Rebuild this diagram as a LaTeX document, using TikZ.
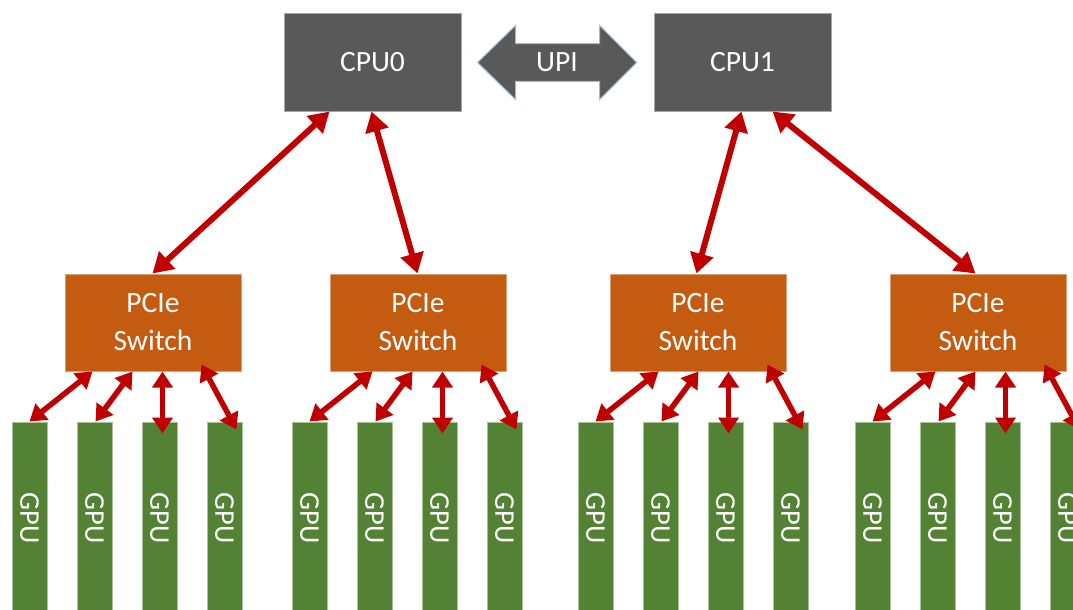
\documentclass[tikz,border=0pt]{standalone}
\usepackage{fontspec}
\setmainfont{Carlito}
\usetikzlibrary{arrows.meta,calc}
\definecolor{cpugray}{HTML}{595959}
\definecolor{cpuedge}{HTML}{A6A6A6}
\definecolor{sworange}{HTML}{C55A11}
\definecolor{swedge}{HTML}{D9A07A}
\definecolor{gpugreen}{HTML}{548235}
\definecolor{gpuedge}{HTML}{A9C196}
\definecolor{linkred}{HTML}{C00000}
\definecolor{upiedge}{HTML}{9DB9D6}
\tikzset{
  cpubox/.style={draw=cpuedge, line width=1pt, fill=cpugray, text=white, minimum width=177pt, minimum height=97pt, inner sep=0pt, font=\fontsize{29.5}{34}\selectfont},
  swbox/.style={draw=swedge, line width=1pt, fill=sworange, text=white, minimum width=176pt, minimum height=97pt, inner sep=0pt, align=center, font=\fontsize{29.5}{38}\selectfont},
  gpubox/.style={draw=gpuedge, line width=1pt, fill=gpugreen, minimum width=35pt, minimum height=188pt, inner sep=0pt},
  gputext/.style={text=white, rotate=-90, font=\fontsize{28.5}{32}\selectfont, inner sep=0pt},
  biglink/.style={draw=linkred, line width=6pt, {Triangle[length=20pt,width=23pt]}-{Triangle[length=20pt,width=23pt]}},
  smalllink/.style={draw=linkred, line width=5.5pt, {Triangle[length=16pt,width=20pt]}-{Triangle[length=16pt,width=20pt]}},
  upishape/.style={fill=cpugray, draw=upiedge, line width=1pt}
}
\begin{document}
\begin{tikzpicture}[x=1pt,y=-1pt]
\useasboundingbox (0,0) rectangle (1073,610);
\clip (0,0) rectangle (1073,610);
\fill[white] (0,0) rectangle (1073,610);

% CPUs
\node[cpubox] (cpu0) at (372.5,62.5) {CPU0};
\node[cpubox] (cpu1) at (742.5,62.5) {CPU1};

% UPI double arrow
\path[upishape] (477.6,62.5) -- (515.6,25.5) -- (515.6,43.6) -- (599.7,43.6) -- (599.7,25.5)
  -- (636.6,62.5) -- (599.7,99.5) -- (599.7,81.4) -- (515.6,81.4) -- (515.6,99.5) -- cycle;
\node[text=white, font=\fontsize{29.5}{34}\selectfont, inner sep=0pt] (upi) at (557,62.5) {UPI};

% Switches and GPUs
\foreach \i/\sx/\L in {1/65/12, 2/330/292, 3/610/578, 4/890/855}{
  \node[swbox] (sw\i) at (\sx+88,322.5) {PCIe\\Switch};
  \foreach \k in {1,2,3,4}{
    \node[gpubox] (g\i-\k) at ({\L+17.5+65*(\k-1)},516) {};
    \node[gputext] (t\i-\k) at ([yshift=-2pt]g\i-\k.center) {GPU};
  }
  \draw[smalllink] ($(g\i-1.north west |- sw\i.south)+(81,0)$) -- ($(g\i-1.north west)+(18,0)$);
  \draw[smalllink] ($(g\i-1.north west |- sw\i.south)+(121,0)$) -- ($(g\i-2.north west)+(19,0)$);
  \draw[smalllink] ($(g\i-3.north |- sw\i.south)+(3,0)$) -- ($(g\i-3.north)+(3,12)$);
  \draw[smalllink] ($(g\i-1.north west |- sw\i.south)+(190,-7)$) -- ($(g\i-4.north east)+(-6,8)$);
}

% CPU to switch links
\draw[biglink] ([xshift=46pt]cpu0.south west) -- ([xshift=88pt]sw1.north west);
\draw[biglink] ([xshift=88pt]cpu0.south west) -- ([xshift=88pt]sw2.north west);
\draw[biglink] ([xshift=88pt]cpu1.south west) -- ([xshift=87pt]sw3.north west);
\draw[biglink] ([xshift=119pt]cpu1.south west) -- ([xshift=86pt]sw4.north west);
\end{tikzpicture}
\end{document}
